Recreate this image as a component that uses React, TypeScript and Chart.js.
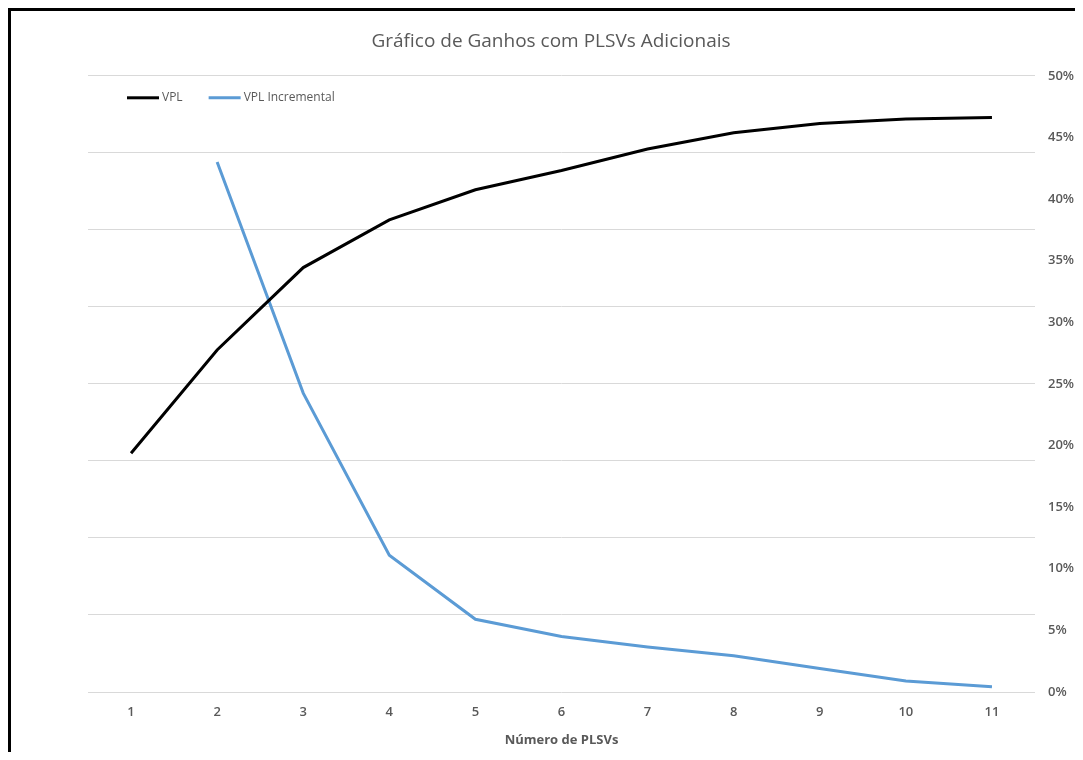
import { useEffect, useRef } from "react";
import { Chart, registerables } from "chart.js";

Chart.register(...registerables);

// Number of PLSVs on the category axis
const plsvCount = ["1", "2", "3", "4", "5", "6", "7", "8", "9", "10", "11"];

// Cumulative NPV (primary axis, labels hidden)
const vpl = [3.1, 4.44, 5.51, 6.13, 6.52, 6.77, 7.05, 7.26, 7.38, 7.44, 7.46];

// Incremental NPV as a share (secondary axis, percent)
const vplIncremental = [null, 0.43, 0.2425, 0.111, 0.059, 0.045, 0.0365, 0.0295, 0.019, 0.009, 0.0043];

const FONT = "'Open Sans', 'Noto Sans', sans-serif";
const TEXT_GREY = "#595959";
const GRID_GREY = "#D9D9D9";

// Legend drawn inside the plot area, top-left, as short line samples
const inlineLegend = {
  id: "inlineLegend",
  afterDraw(chart: any) {
    const { ctx, chartArea } = chart;
    const y = chartArea.top + 22;
    let x = chartArea.left + 39;
    ctx.save();
    ctx.font = `12px ${FONT}`;
    ctx.textBaseline = "middle";
    ctx.textAlign = "left";
    chart.data.datasets.forEach((ds: any) => {
      ctx.strokeStyle = ds.borderColor;
      ctx.lineWidth = 3;
      ctx.beginPath();
      ctx.moveTo(x, y);
      ctx.lineTo(x + 32, y);
      ctx.stroke();
      x += 35;
      ctx.fillStyle = TEXT_GREY;
      ctx.fillText(ds.label, x, y);
      x += ctx.measureText(ds.label).width + 26;
    });
    ctx.restore();
  },
};

export default function App() {
  const canvasRef = useRef<HTMLCanvasElement | null>(null);

  useEffect(() => {
    if (!canvasRef.current) return;
    const chart = new Chart(canvasRef.current, {
      type: "line",
      data: {
        labels: plsvCount,
        datasets: [
          {
            label: "VPL",
            data: vpl,
            borderColor: "#000000",
            backgroundColor: "#000000",
            borderWidth: 3,
            pointRadius: 0,
            tension: 0,
            yAxisID: "yVpl",
          },
          {
            label: "VPL Incremental",
            data: vplIncremental,
            borderColor: "#5B9BD5",
            backgroundColor: "#5B9BD5",
            borderWidth: 3,
            pointRadius: 0,
            tension: 0,
            yAxisID: "yPct",
          },
        ],
      },
      options: {
        responsive: false,
        animation: false,
        layout: { padding: { left: 8, right: 0, top: 0, bottom: 0 } },
        plugins: {
          legend: { display: false },
          tooltip: { enabled: false },
          title: {
            display: true,
            text: "Gráfico de Ganhos com PLSVs Adicionais",
            color: TEXT_GREY,
            font: { family: FONT, size: 19, weight: "normal" },
            padding: { top: 19, bottom: 23 },
          },
        },
        scales: {
          x: {
            offset: true,
            grid: { display: false, drawTicks: false },
            border: { display: false },
            ticks: {
              color: TEXT_GREY,
              font: { family: FONT, size: 13, weight: "600" },
              padding: 12,
            },
            title: {
              display: true,
              text: "Número de PLSVs",
              color: TEXT_GREY,
              font: { family: FONT, size: 13, weight: "bold" },
              padding: { top: 0, bottom: 4 },
            },
            afterFit(scale: any) {
              scale.height = 60;
            },
          },
          yVpl: {
            type: "linear",
            position: "left",
            min: 0,
            max: 8,
            ticks: { display: false, stepSize: 1 },
            grid: { color: GRID_GREY, lineWidth: 1, drawTicks: false },
            border: { display: false },
            afterFit(scale: any) {
              scale.width = 69;
            },
          },
          yPct: {
            type: "linear",
            position: "right",
            min: 0,
            max: 0.5,
            grid: { display: false, drawTicks: false },
            border: { display: false },
            ticks: {
              stepSize: 0.05,
              color: TEXT_GREY,
              font: { family: FONT, size: 13, weight: "600" },
              padding: 13,
              callback: (v: any) => `${Math.round(Number(v) * 100)}%`,
            },
            afterFit(scale: any) {
              scale.width = 48;
            },
          },
        },
      },
      plugins: [inlineLegend],
    });
    return () => chart.destroy();
  }, []);

  return (
    <div
      style={{
        width: 1075,
        height: 744,
        boxSizing: "border-box",
        borderTop: "3px solid #000",
        borderLeft: "3px solid #000",
        background: "#fff",
        overflow: "hidden",
      }}
    >
      <canvas ref={canvasRef} width={1072} height={741} style={{ display: "block" }} />
    </div>
  );
}
